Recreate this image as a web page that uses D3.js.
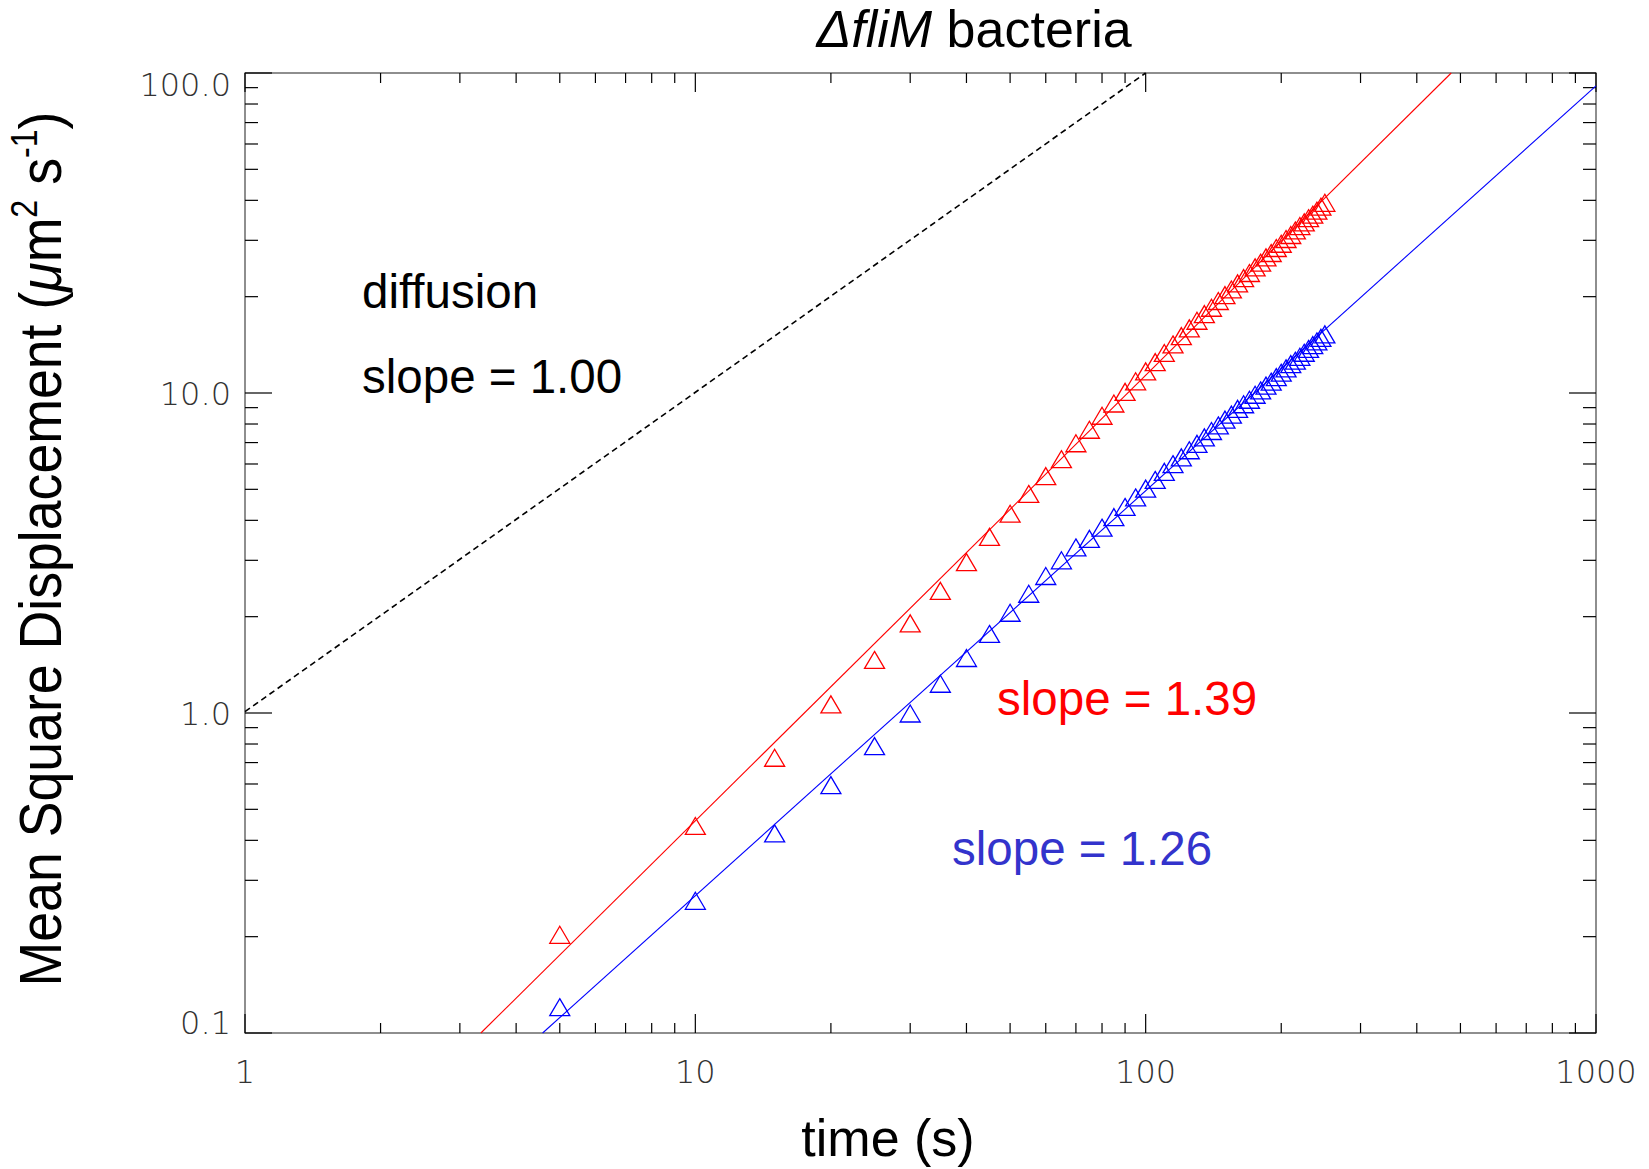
<!DOCTYPE html>
<html>
<head>
<meta charset="utf-8">
<script src="https://cdn.jsdelivr.net/npm/d3@7"></script>
<style>
  html, body { margin: 0; padding: 0; background: #fff; }
  svg { display: block; }
</style>
</head>
<body>
<svg id="chart" width="1649" height="1169"></svg>
<script>
// ---------------- data ----------------
const times = [5,10,15,20,25,30,35,40,45,50,55,60,65,70,75,80,85,90,95,100,
  105,110,115,120,125,130,135,140,145,150,155,160,165,170,175,180,185,190,195,200,
  205,210,215,220,225,230,235,240,245,250];

const redMSD = [0.202,0.442,0.722,1.06,1.46,1.90,2.40,2.95,3.54,4.18,4.82,5.48,6.19,6.94,
  7.65,8.46,9.24,10.05,10.84,11.64,12.45,13.29,14.13,15.0,15.87,16.76,17.58,18.40,19.32,20.16,
  20.99,21.94,22.78,23.63,24.60,25.45,26.44,27.29,28.29,29.16,30.18,31.06,32.09,33.13,34.02,
  35.06,35.95,37.0,38.08,39.16];

const blueMSD = [0.120,0.258,0.419,0.593,0.785,0.993,1.23,1.48,1.76,2.05,2.35,2.67,2.99,3.28,
  3.49,3.78,4.08,4.39,4.70,5.01,5.33,5.65,5.97,6.27,6.60,6.91,7.24,7.58,7.89,8.23,
  8.53,8.89,9.19,9.49,9.84,10.15,10.51,10.81,11.17,11.53,11.90,12.27,12.57,12.93,13.31,
  13.68,14.06,14.44,14.82,15.20];

// fit lines (endpoints)
const redFitT = [3.34, 477];
const redFitY = [0.1, 100];
const blueFitT = [4.58, 1000];
const blueFitY = [0.1, 91.2];
// diffusion reference line
const diffT = [1, 100];
const diffY = [1.01, 100];

const xMajorTicks = [1, 10, 100, 1000];
const xMajorLabels = ["1", "10", "100", "1000"];
const yMajorTicks = [0.1, 1, 10, 100];
const yMajorLabels = ["0.1", "1.0", "10.0", "100.0"];

const titleItalic = "\u0394fliM";
const titleRest = " bacteria";
const xLabel = "time (s)";
const annotations = [
  {text: "diffusion", color: "#000"},
  {text: "slope = 1.00", color: "#000"},
  {text: "slope = 1.39", color: "#ff0000"},
  {text: "slope = 1.26", color: "#3333cc"}
];

// ---------------- layout ----------------
const L = 245, R = 1596, T = 73, B = 1033;
const svg = d3.select("#chart");
const x = d3.scaleLog().domain([1, 1000]).range([L, R]);
const y = d3.scaleLog().domain([0.1, 100]).range([B, T]);

const plot = svg.append("g");

// frame
plot.append("rect").attr("x", L).attr("y", T).attr("width", R - L).attr("height", B - T)
  .attr("fill", "none").attr("stroke", "#444").attr("stroke-width", 1.2);

// ticks
const xAll = [];
for (let d = 1; d < 1000; d *= 10) for (let k = 1; k < 10; k++) xAll.push(d * k);
xAll.push(1000);
const yAll = [];
for (let d = 0.1; d < 99; d *= 10) for (let k = 1; k < 10; k++) yAll.push(+(d * k).toPrecision(3));
yAll.push(100);

const isMajor = v => Math.abs(Math.log10(v) - Math.round(Math.log10(v))) < 1e-6;

const tickG = plot.append("g").attr("stroke", "#000").attr("stroke-width", 1.2);
xAll.forEach(v => {
  const len = isMajor(v) ? 19 : 10;
  const px = x(v);
  tickG.append("line").attr("x1", px).attr("x2", px).attr("y1", B).attr("y2", B - len);
  tickG.append("line").attr("x1", px).attr("x2", px).attr("y1", T).attr("y2", T + len);
});
yAll.forEach(v => {
  const len = isMajor(v) ? 27 : 13;
  const py = y(v);
  tickG.append("line").attr("x1", L).attr("x2", L + len).attr("y1", py).attr("y2", py);
  tickG.append("line").attr("x1", R).attr("x2", R - len).attr("y1", py).attr("y2", py);
});

// tick labels
const tickFont = "'DejaVu Sans', sans-serif";
const tickSize = 32;
xMajorTicks.forEach((v, i) => {
  svg.append("text").attr("x", x(v)).attr("y", 1083)
    .attr("text-anchor", "middle")
    .attr("font-family", tickFont).attr("font-weight", 200).attr("font-size", tickSize)
    .attr("fill", "#333").text(xMajorLabels[i]);
});
yMajorTicks.forEach((v, i) => {
  let py = y(v) + 12;
  if (i === 0) py = y(v) + 1;          // bottom label sits on the axis
  if (i === yMajorTicks.length - 1) py = y(v) + 23; // top label hangs below frame top
  svg.append("text").attr("x", 231).attr("y", py)
    .attr("text-anchor", "end")
    .attr("font-family", tickFont).attr("font-weight", 200).attr("font-size", tickSize)
    .attr("fill", "#333").text(yMajorLabels[i]);
});

// lines
const line = d3.line().x(d => x(d[0])).y(d => y(d[1]));
plot.append("path").datum(d3.zip(diffT, diffY)).attr("d", line)
  .attr("fill", "none").attr("stroke", "#000").attr("stroke-width", 1.6)
  .attr("stroke-dasharray", "6,4");
plot.append("path").datum(d3.zip(redFitT, redFitY)).attr("d", line)
  .attr("fill", "none").attr("stroke", "#ff0000").attr("stroke-width", 1.1);
plot.append("path").datum(d3.zip(blueFitT, blueFitY)).attr("d", line)
  .attr("fill", "none").attr("stroke", "#0000ff").attr("stroke-width", 1.1);

// triangles
const tri = "M0,-9L10,8L-10,8Z";
function drawTriangles(vals, color) {
  plot.append("g").selectAll("path").data(d3.zip(times, vals)).join("path")
    .attr("d", tri)
    .attr("transform", d => `translate(${x(d[0])},${y(d[1])})`)
    .attr("fill", "none").attr("stroke", color).attr("stroke-width", 1.3);
}
drawTriangles(redMSD, "#ff0000");
drawTriangles(blueMSD, "#0000ff");

// annotations
const annFont = "'Liberation Sans', Arial, sans-serif";
const annPos = [[362, 308], [362, 393], [997, 715], [952, 865]];
annotations.forEach((a, i) => {
  svg.append("text").attr("x", annPos[i][0]).attr("y", annPos[i][1])
    .attr("font-family", annFont).attr("font-size", 47.5).attr("fill", a.color).text(a.text);
});

// title
const title = svg.append("text").attr("x", 974).attr("y", 47).attr("text-anchor", "middle")
  .attr("font-family", annFont).attr("font-size", 52).attr("fill", "#000");
title.append("tspan").attr("font-style", "italic").text(titleItalic);
title.append("tspan").text(titleRest);

// x label
svg.append("text").attr("x", 888).attr("y", 1156).attr("text-anchor", "middle")
  .attr("font-family", annFont).attr("font-size", 52).attr("fill", "#000").text(xLabel);

// y label
const yl = svg.append("text").attr("text-anchor", "middle")
  .attr("font-family", annFont).attr("font-size", 60).attr("fill", "#000");
yl.append("tspan").text("Mean Square Displacement (");
yl.append("tspan").attr("font-style", "italic").text("\u03bc");
yl.append("tspan").text("m");
yl.append("tspan").attr("font-size", 36).attr("dy", -24).text("2");
yl.append("tspan").attr("dy", 24).text(" s");
yl.append("tspan").attr("font-size", 36).attr("dy", -24).text("-1");
yl.append("tspan").attr("dy", 24).text(")");
const wl = yl.node().getComputedTextLength();
const sx = 875 / wl;
yl.attr("transform", `translate(61,549) rotate(-90) scale(${sx},1)`);
</script>
</body>
</html>
